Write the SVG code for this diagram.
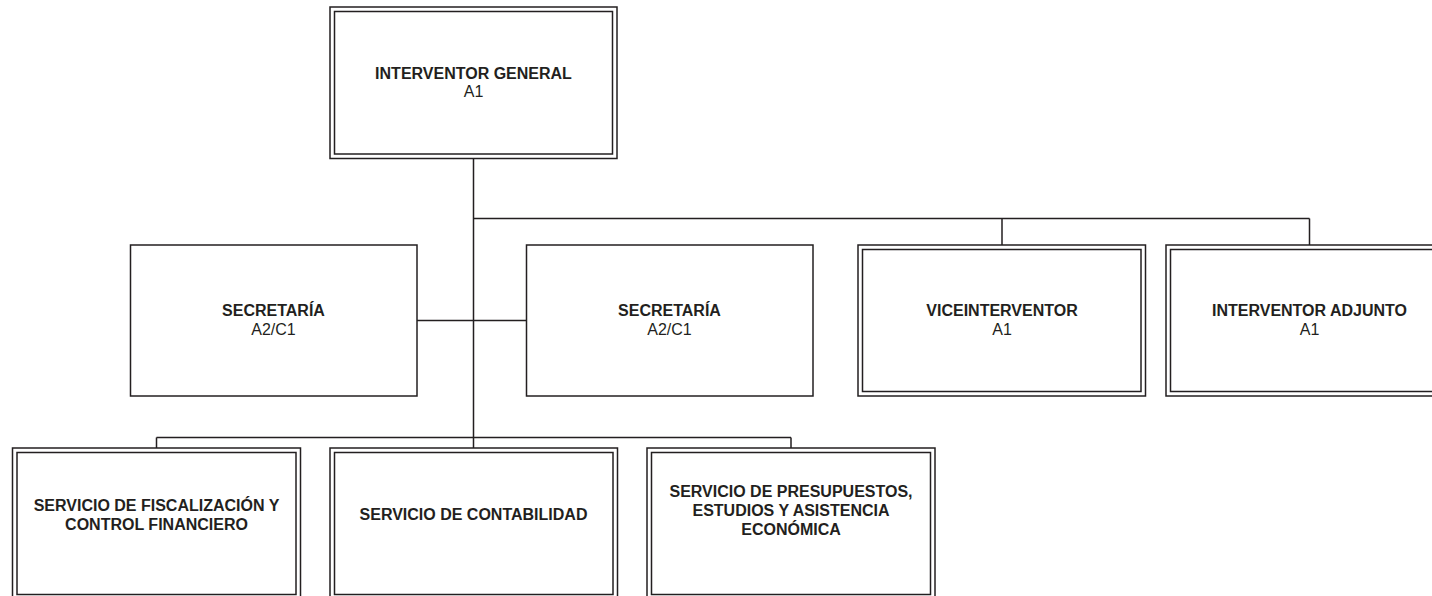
<svg xmlns="http://www.w3.org/2000/svg" width="1432" height="596" viewBox="0 0 1432 596">
<style>
.bg{fill:#ffffff}
.box{fill:#ffffff;stroke:#231f20;stroke-width:1.5}
.in{fill:none;stroke:#231f20;stroke-width:1.5}
.ln{fill:none;stroke:#231f20;stroke-width:1.5}
text{font-family:"Liberation Sans",Arial,sans-serif;font-size:16px;fill:#231f20;text-anchor:middle}
.b{font-weight:bold}
</style>
<rect class="bg" x="0" y="0" width="1432" height="596"/>
<g id="connectors">
<path class="ln" d="M473.5 158 V437.5"/>
<path class="ln" d="M473.5 218.5 H1309.5 M1002 218.5 V245 M1309.5 218.5 V245"/>
<path class="ln" d="M417 320.5 H526.5"/>
<path class="ln" d="M156.5 437.5 H791 M156.5 437.5 V448 M473.5 437.5 V448 M791 437.5 V448"/>
</g>
<g id="interventor-general">
<rect class="box" x="330" y="7" width="287" height="151.5"/>
<rect class="in" x="334.5" y="11.5" width="278" height="142.5"/>
<text x="473.5" y="78.5" class="b">INTERVENTOR GENERAL</text>
<text x="473.5" y="97">A1</text>
</g>
<g id="secretaria-1">
<rect class="box" x="130.5" y="245" width="286.5" height="151"/>
<text x="273.5" y="316" class="b">SECRETARÍA</text>
<text x="273.5" y="334.5">A2/C1</text>
</g>
<g id="secretaria-2">
<rect class="box" x="526.5" y="245" width="286.5" height="151"/>
<text x="669.5" y="316" class="b">SECRETARÍA</text>
<text x="669.5" y="334.5">A2/C1</text>
</g>
<g id="viceinterventor">
<rect class="box" x="858" y="245" width="287.5" height="151"/>
<rect class="in" x="862.5" y="249.5" width="278.5" height="142"/>
<text x="1002" y="316" class="b">VICEINTERVENTOR</text>
<text x="1002" y="334.5">A1</text>
</g>
<g id="interventor-adjunto">
<rect class="box" x="1166" y="245" width="287.5" height="151"/>
<rect class="in" x="1170.5" y="249.5" width="278.5" height="142"/>
<text x="1309.5" y="316" class="b">INTERVENTOR ADJUNTO</text>
<text x="1309.5" y="334.5">A1</text>
</g>
<g id="servicio-fiscalizacion">
<rect class="box" x="12.5" y="448" width="288" height="151"/>
<rect class="in" x="17" y="452.5" width="279" height="142"/>
<text x="156.5" y="510.5" class="b">SERVICIO DE FISCALIZACIÓN Y</text>
<text x="156.5" y="529.5" class="b">CONTROL FINANCIERO</text>
</g>
<g id="servicio-contabilidad">
<rect class="box" x="330" y="448" width="287.5" height="151"/>
<rect class="in" x="334.5" y="452.5" width="278.5" height="142"/>
<text x="473.5" y="519.5" class="b">SERVICIO DE CONTABILIDAD</text>
</g>
<g id="servicio-presupuestos">
<rect class="box" x="647" y="448" width="288" height="151"/>
<rect class="in" x="651.5" y="452.5" width="279" height="142"/>
<text x="791" y="497" class="b">SERVICIO DE PRESUPUESTOS,</text>
<text x="791" y="516" class="b">ESTUDIOS Y ASISTENCIA</text>
<text x="791" y="535" class="b">ECONÓMICA</text>
</g>
</svg>
